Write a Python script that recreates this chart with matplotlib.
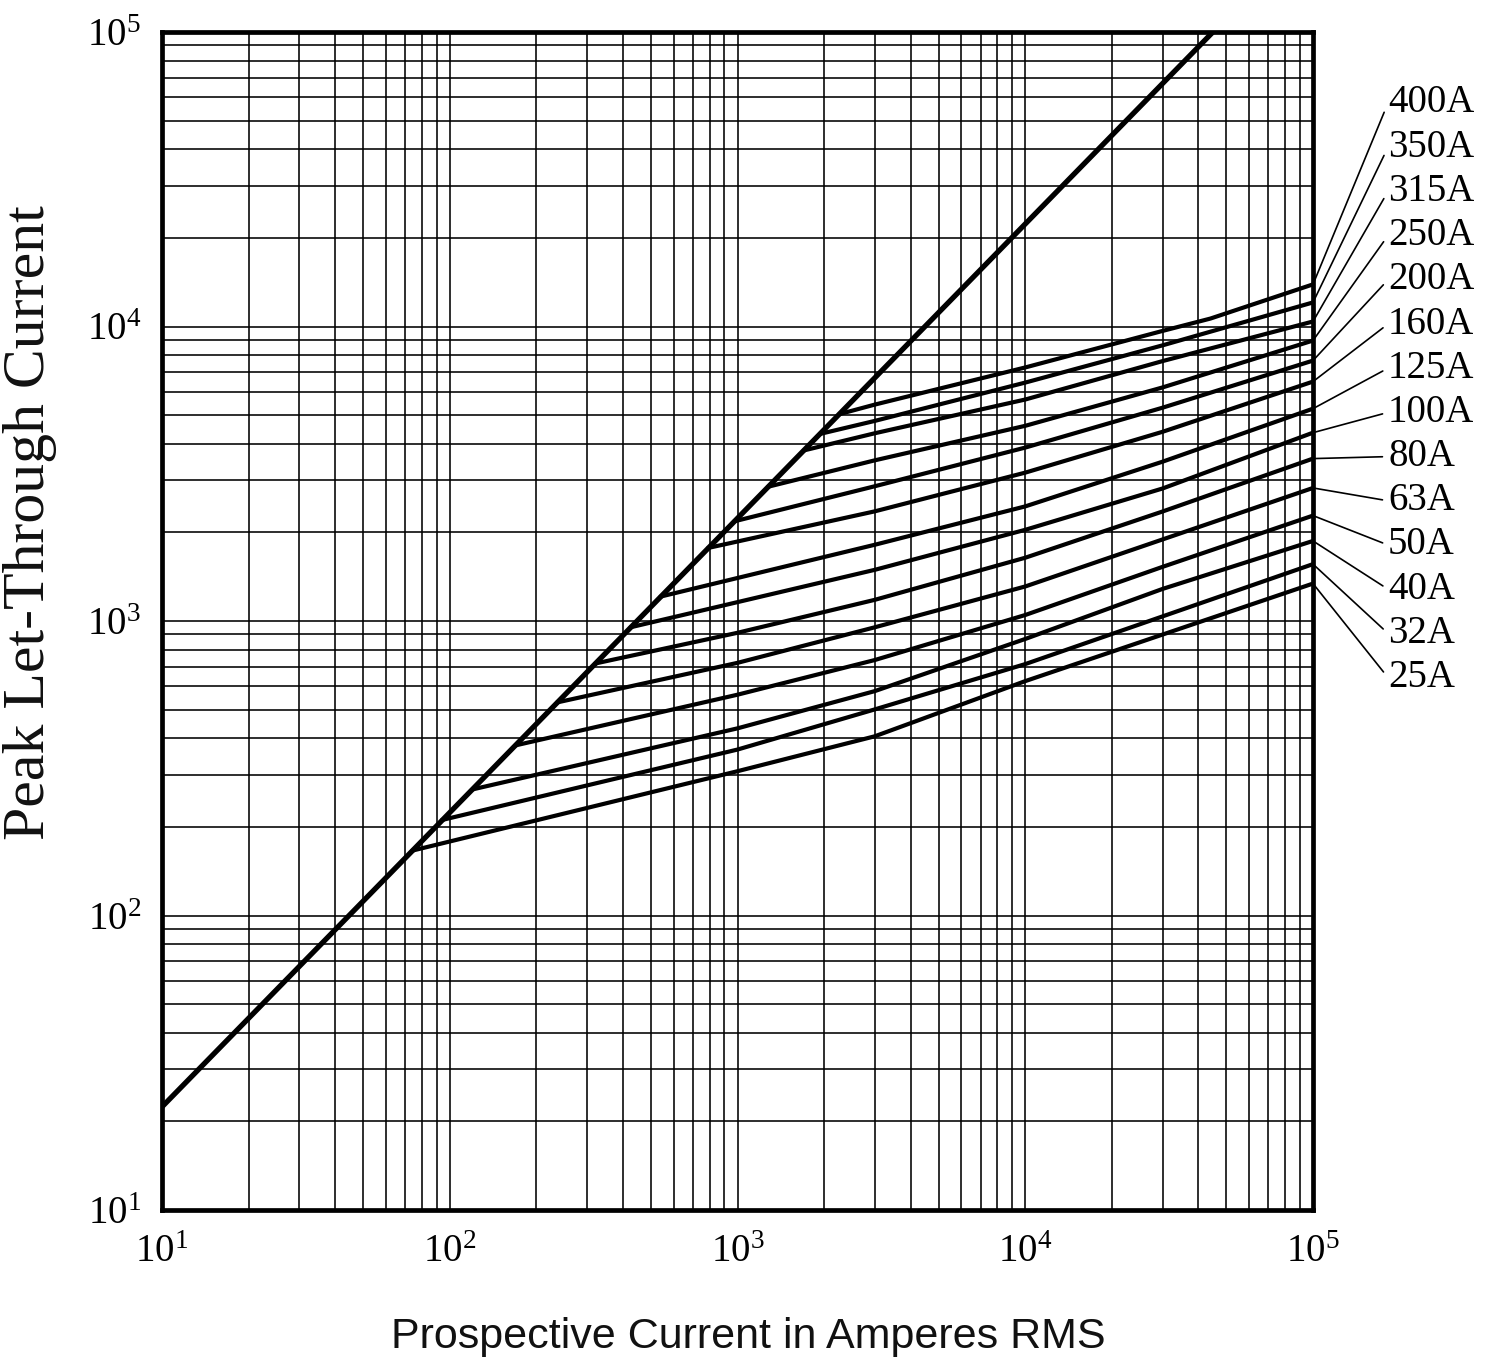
import matplotlib
matplotlib.use("Agg")
import matplotlib.pyplot as plt
from matplotlib.ticker import FixedLocator, LogLocator, NullFormatter, FuncFormatter

# ---------------- data ----------------
x_major_ticks = [1e1, 1e2, 1e3, 1e4, 1e5]
y_major_ticks = [1e1, 1e2, 1e3, 1e4, 1e5]
tick_exponents = [1, 2, 3, 4, 5]

# boundary (unlimited current) line
diag_x = [10, 44900]
diag_y = [22.4, 100000]

ratings = ["400A", "350A", "315A", "250A", "200A", "160A", "125A",
           "100A", "80A", "63A", "50A", "40A", "32A", "25A"]

x_400 = [2259, 3000, 10000, 30000, 44000, 100000]
y_400 = [5040, 5430, 7260, 9660, 10640, 13900]
x_350 = [1940, 3000, 10000, 30000, 100000]
y_350 = [4320, 4780, 6450, 8630, 12070]
x_315 = [1698, 3000, 10000, 30000, 100000]
y_315 = [3793, 4340, 5650, 7630, 10400]
x_250 = [1276, 3000, 10000, 30000, 100000]
y_250 = [2856, 3512, 4600, 6210, 8960]
x_200 = [975, 3000, 10000, 30000, 100000]
y_200 = [2180, 2868, 3880, 5300, 7660]
x_160 = [790, 3000, 10000, 30000, 100000]
y_160 = [1770, 2357, 3190, 4390, 6500]
x_125 = [540, 3000, 10000, 30000, 100000]
y_125 = [1210, 1815, 2450, 3475, 5260]
x_100 = [425, 3000, 10000, 30000, 100000]
y_100 = [952, 1492, 2040, 2818, 4360]
x_80 = [320, 1000, 3000, 10000, 30000, 100000]
y_80 = [717, 912, 1180, 1640, 2354, 3560]
x_63 = [236, 1000, 3000, 10000, 30000, 100000]
y_63 = [529, 721, 952, 1310, 1892, 2830]
x_50 = [169, 1000, 3000, 10000, 30000, 100000]
y_50 = [378, 562, 737, 1048, 1527, 2280]
x_40 = [120, 1000, 3000, 10000, 30000, 100000]
y_40 = [268, 432, 578, 869, 1285, 1870]
x_32 = [94, 1000, 3000, 10000, 100000]
y_32 = [211, 366, 501, 714, 1560]
x_25 = [74, 1000, 3000, 10000, 100000]
y_25 = [166, 309, 406, 625, 1340]

curves_x = [x_400, x_350, x_315, x_250, x_200, x_160, x_125,
            x_100, x_80, x_63, x_50, x_40, x_32, x_25]
curves_y = [y_400, y_350, y_315, y_250, y_200, y_160, y_125,
            y_100, y_80, y_63, y_50, y_40, y_32, y_25]

# ---------------- figure ----------------
W, H = 1490, 1368
fig = plt.figure(figsize=(W / 100, H / 100), dpi=100)
fig.patch.set_facecolor("white")

ax_l, ax_r, ax_t, ax_b = 162, 1313, 32, 1210
ax = fig.add_axes([ax_l / W, (H - ax_b) / H, (ax_r - ax_l) / W, (ax_b - ax_t) / H])
ax.set_xscale("log")
ax.set_yscale("log")
ax.set_xlim(x_major_ticks[0], x_major_ticks[-1])
ax.set_ylim(y_major_ticks[0], y_major_ticks[-1])

ax.xaxis.set_major_locator(FixedLocator(x_major_ticks))
ax.yaxis.set_major_locator(FixedLocator(y_major_ticks))
ax.xaxis.set_minor_locator(LogLocator(base=10, subs=range(2, 10), numticks=30))
ax.yaxis.set_minor_locator(LogLocator(base=10, subs=range(2, 10), numticks=30))
ax.xaxis.set_minor_formatter(NullFormatter())
ax.yaxis.set_minor_formatter(NullFormatter())

exp_map = dict(zip(x_major_ticks, tick_exponents))


def fmt(v, pos):
    e = exp_map.get(v, None)
    if e is None:
        return ""
    return r"$\mathregular{10^{%d}}$" % e


ax.xaxis.set_major_formatter(FuncFormatter(fmt))
ax.yaxis.set_major_formatter(FuncFormatter(fmt))

serif = ["Liberation Serif", "DejaVu Serif"]
for lab in ax.get_xticklabels() + ax.get_yticklabels():
    lab.set_fontfamily(serif)
    lab.set_fontsize(28)
ax.tick_params(axis="both", which="both", length=0)
ax.tick_params(axis="x", pad=17)
ax.tick_params(axis="y", pad=15)

ax.grid(which="both", color="black", lw=1.15)
for sp in ax.spines.values():
    sp.set_linewidth(3.4)
    sp.set_color("black")

# boundary line
ax.plot(diag_x, diag_y, color="black", lw=3.8, solid_capstyle="butt")

# fuse curves
for cx, cy in zip(curves_x, curves_y):
    ax.plot(cx, cy, color="black", lw=3.0, solid_capstyle="round", solid_joinstyle="round")

# labels with leader lines
label_x_frac = (1388 - ax_l) / (ax_r - ax_l)
label_top_px = 103
label_step_px = 44.2
for i, (name, cy) in enumerate(zip(ratings, curves_y)):
    py = label_top_px + i * label_step_px
    yf = (ax_b - py) / (ax_b - ax_t)
    ax.annotate(name, xy=(x_major_ticks[-1], cy[-1]), xycoords="data",
                xytext=(label_x_frac, yf), textcoords="axes fraction",
                ha="left", va="center", fontsize=28, family=serif,
                annotation_clip=False,
                arrowprops=dict(arrowstyle="-", lw=1.2, color="black",
                                shrinkA=2, shrinkB=0, relpos=(0, 0.5)))

# axis titles
fig.text(30 / W, 1 - 523 / H, "Peak Let-Through Current", rotation=90,
         ha="center", va="center", fontsize=43, family=serif, color="#111111")
fig.text(748 / W, 1 - 1337 / H, "Prospective Current in Amperes RMS",
         ha="center", va="center", fontsize=31,
         family=["Liberation Sans Narrow", "Liberation Sans", "DejaVu Sans"], color="#111111")

fig.savefig("out.png", dpi=100, facecolor="white")
